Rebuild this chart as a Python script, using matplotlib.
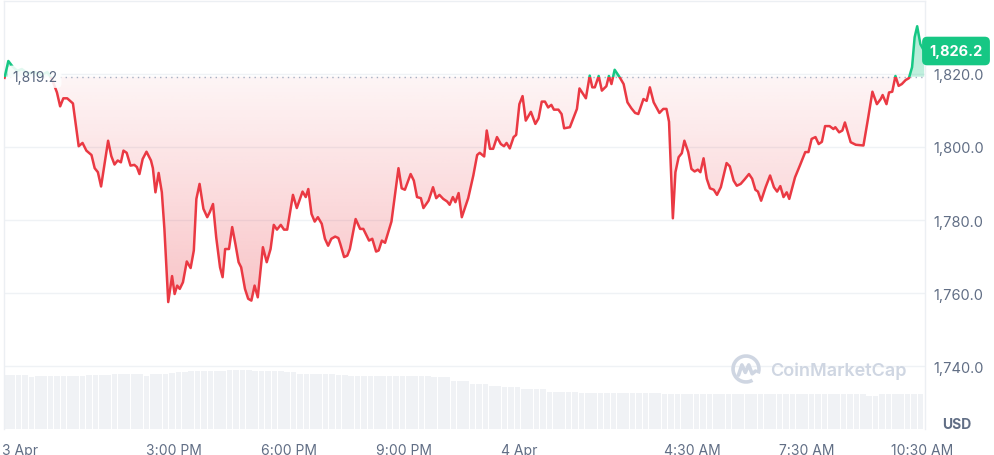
import numpy as np
import matplotlib
matplotlib.use('Agg')
import matplotlib.pyplot as plt
from matplotlib.patches import Rectangle, Arc
from matplotlib.path import Path
from matplotlib.colors import to_rgb

plt.rcParams['font.family'] = ['Inter', 'DejaVu Sans']

RED = '#ea3943'
GREEN = '#16c784'
GRID = '#eff2f5'
TEXT = '#58667e'

# minutes after 10:35 AM, 3 Apr
minutes = [
    0, 6, 13, 20, 27, 36, 47, 58, 67, 74,
    82, 87, 92, 98, 107, 116, 122, 128, 136, 141,
    146, 151, 162, 167, 172, 177, 182, 186, 191, 197,
    203, 207, 211, 216, 222, 229, 232, 236, 241, 246,
    250, 256, 262, 266, 270, 274, 279, 285, 291, 296,
    300, 305, 311, 317, 321, 326, 331, 337, 341, 345,
    351, 356, 361, 366, 370, 376, 381, 386, 391, 396,
    404, 410, 416, 421, 426, 432, 437, 442, 451, 457,
    466, 471, 475, 480, 485, 490, 496, 501, 506, 511,
    517, 522, 525, 531, 536, 540, 549, 556, 561, 570,
    575, 581, 585, 590, 595, 605, 616, 621, 626, 635,
    640, 645, 651, 655, 663, 670, 675, 680, 686, 692,
    696, 701, 705, 710, 715, 725, 733, 739, 743, 750,
    754, 759, 764, 770, 776, 781, 785, 790, 796, 800,
    805, 810, 815, 823, 830, 835, 840, 845, 850, 855,
    859, 866, 871, 875, 884, 895, 899, 909, 915, 919,
    923, 929, 934, 941, 945, 949, 954, 962, 968, 974,
    980, 986, 991, 999, 1004, 1009, 1015, 1024, 1030, 1035,
    1039, 1045, 1049, 1054, 1059, 1063, 1069, 1074, 1079, 1084,
    1088, 1093, 1098, 1103, 1109, 1114, 1120, 1129, 1134, 1140,
    1145, 1151, 1157, 1164, 1169, 1174, 1178, 1183, 1190, 1197,
    1203, 1208, 1213, 1218, 1223, 1227, 1236, 1244, 1252, 1257,
    1262, 1268, 1273, 1278, 1283, 1290, 1296, 1299, 1305, 1310,
    1314, 1323, 1331, 1343, 1350, 1357, 1364, 1370, 1373, 1379,
    1383, 1388, 1393, 1398, 1403, 1409, 1414, 1419, 1423, 1427,
    1432, 1438,
]

prices = [
    1818.9, 1823.5, 1821.9, 1820.8, 1821.3, 1820.2, 1820.5, 1819.7, 1820.5, 1818.6,
    1814.9, 1811.1, 1813.3, 1813.3, 1811.9, 1800.2, 1801.1, 1799.0, 1797.8, 1794.2,
    1793.1, 1789.2, 1801.7, 1797.5, 1795.2, 1796.3, 1795.8, 1799.0, 1798.4, 1794.9,
    1795.1, 1794.5, 1792.6, 1796.7, 1798.7, 1796.3, 1794.2, 1787.6, 1792.9, 1787.6,
    1777.6, 1757.6, 1764.7, 1759.8, 1762.1, 1761.2, 1763.0, 1768.7, 1766.9, 1771.7,
    1785.8, 1789.9, 1783.1, 1780.8, 1782.2, 1784.4, 1775.3, 1767.1, 1764.4, 1772.1,
    1772.1, 1778.1, 1773.5, 1768.5, 1767.1, 1761.2, 1758.5, 1758.0, 1762.1, 1758.9,
    1772.6, 1768.5, 1772.1, 1778.7, 1777.4, 1778.7, 1777.4, 1777.4, 1786.9, 1783.3,
    1787.8, 1786.3, 1788.5, 1781.7, 1779.6, 1780.8, 1779.0, 1774.9, 1773.0, 1774.9,
    1775.5, 1775.1, 1773.5, 1769.9, 1770.3, 1772.1, 1780.3, 1777.6, 1777.6, 1774.4,
    1774.9, 1771.4, 1771.7, 1774.4, 1773.8, 1779.6, 1794.2, 1788.7, 1788.3, 1792.6,
    1790.8, 1786.3, 1786.0, 1783.3, 1785.3, 1789.0, 1786.0, 1786.9, 1785.8, 1785.1,
    1784.2, 1786.3, 1784.9, 1787.4, 1780.8, 1786.0, 1792.2, 1797.8, 1798.4, 1797.4,
    1804.5, 1799.5, 1799.5, 1802.7, 1800.8, 1800.2, 1801.1, 1799.6, 1802.7, 1803.3,
    1811.7, 1813.9, 1807.2, 1809.6, 1806.3, 1807.8, 1812.4, 1812.4, 1810.8, 1811.5,
    1810.2, 1810.2, 1809.0, 1805.1, 1805.4, 1810.4, 1816.0, 1813.3, 1819.5, 1816.3,
    1816.3, 1819.4, 1815.4, 1816.6, 1819.4, 1817.2, 1821.1, 1819.0, 1817.2, 1812.2,
    1810.6, 1809.3, 1809.0, 1813.1, 1812.6, 1816.3, 1812.2, 1809.3, 1810.4, 1810.4,
    1806.9, 1780.5, 1793.1, 1797.2, 1798.3, 1801.7, 1798.6, 1794.0, 1793.3, 1793.8,
    1793.1, 1796.9, 1791.3, 1788.7, 1788.3, 1786.9, 1789.0, 1795.6, 1794.7, 1790.8,
    1789.4, 1789.9, 1791.1, 1792.6, 1791.3, 1788.3, 1787.8, 1785.3, 1789.0, 1792.2,
    1789.0, 1787.8, 1789.3, 1786.3, 1787.6, 1785.8, 1791.7, 1795.1, 1798.6, 1798.6,
    1802.2, 1802.7, 1800.8, 1801.4, 1805.7, 1805.7, 1804.9, 1805.4, 1804.0, 1804.5,
    1806.7, 1801.3, 1800.6, 1800.4, 1807.6, 1815.1, 1811.7, 1813.1, 1814.2, 1811.7,
    1814.9, 1815.1, 1819.4, 1816.7, 1817.2, 1818.3, 1818.8, 1821.8, 1830.0, 1833.0,
    1828.1, 1826.2,
]

# 24h volume (billion USD), one bar every 10 minutes
volumes = [
    8.10, 8.10, 8.10, 8.10, 7.85, 8.00, 8.00, 7.90, 7.90, 7.90,
    8.00, 8.00, 8.00, 8.10, 8.10, 8.10, 8.10, 8.25, 8.25, 8.25,
    8.25, 8.25, 7.90, 8.20, 8.20, 8.20, 8.40, 8.60, 8.60, 8.70,
    8.70, 8.70, 8.70, 8.70, 8.70, 8.85, 8.85, 8.85, 8.85, 8.75,
    8.75, 8.75, 8.75, 8.75, 8.50, 8.50, 8.25, 8.25, 8.25, 8.25,
    8.25, 8.25, 8.10, 8.10, 7.90, 7.90, 7.90, 7.90, 7.90, 7.90,
    7.90, 7.90, 8.00, 8.00, 8.00, 8.00, 8.00, 7.75, 7.75, 7.75,
    7.25, 7.25, 7.25, 6.75, 6.75, 6.75, 6.40, 6.40, 6.25, 6.25,
    6.25, 6.00, 6.00, 6.00, 6.00, 5.60, 5.60, 5.60, 5.60, 5.60,
    5.40, 5.40, 5.40, 5.40, 5.40, 5.40, 5.40, 5.40, 5.40, 5.40,
    5.40, 5.40, 5.40, 5.25, 5.25, 5.25, 5.25, 5.25, 5.25, 5.25,
    5.25, 5.25, 5.25, 5.25, 5.25, 5.25, 5.25, 5.25, 5.25, 5.25,
    5.25, 5.25, 5.25, 5.25, 5.25, 5.25, 5.25, 5.25, 5.25, 5.25,
    5.25, 5.25, 5.25, 5.25, 5.25, 5.00, 5.00, 5.25, 5.25, 5.25,
    5.25, 5.25, 5.25, 5.25,
]

base_price = 1819.2
last_price = 1826.2
tick_minutes = [25, 265, 445, 625, 805, 1075, 1255, 1435]
tick_labels = ['3 Apr', '3:00 PM', '6:00 PM', '9:00 PM', '4 Apr', '4:30 AM', '7:30 AM', '10:30 AM']
y_ticks = [1740, 1760, 1780, 1800, 1820]

t = np.array(minutes, dtype=float)
p = np.array(prices)
ymin, ymax = 1722.9, 1839.9

fig = plt.figure(figsize=(9.95, 4.56), dpi=100)
rect = [4.5 / 995, 26 / 456, 921 / 995, 428 / 456]

# volume bars behind the price
vax = fig.add_axes(rect)
bar_t = np.arange(len(volumes)) * 10 + 2
vax.bar(bar_t, volumes, width=8.8, color='#f0f2f5', align='center')
vax.set_xlim(0, 1440)
vax.set_ylim(0, 64.2)
vax.axis('off')

ax = fig.add_axes(rect)
ax.patch.set_alpha(0)
ax.set_xlim(0, 1440)
ax.set_ylim(ymin, ymax)


def gradient_fill(ax, t, p, base, color, below):
    mask = p <= base if below else p >= base
    coll = ax.fill_between(t, p, base, where=mask, interpolate=True,
                           facecolor='none', edgecolor='none')
    path = Path.make_compound_path(*coll.get_paths())
    rgb = to_rgb(color)
    n = 300
    if below:
        ys = np.linspace(ymin, base, n)
        a = 0.05 + 0.25 * np.clip((base - ys) / (base - 1757.0), 0, 1.2)
        ext = [0, 1440, ymin, base]
    else:
        ys = np.linspace(base, ymax, n)
        a = 0.26 + 0.10 * np.clip((ys - base) / (1833.0 - base), 0, 1)
        ext = [0, 1440, base, ymax]
    img = np.zeros((n, 2, 4))
    img[:, :, :3] = rgb
    img[:, :, 3] = a[:, None]
    im = ax.imshow(img, extent=ext, origin='lower', aspect='auto',
                   interpolation='bilinear', zorder=1)
    im.set_clip_path(path, transform=ax.transData)


gradient_fill(ax, t, p, base_price, RED, True)
gradient_fill(ax, t, p, base_price, GREEN, False)
ax.set_xlim(0, 1440)
ax.set_ylim(ymin, ymax)

# baseline
ax.axhline(base_price, color='#a6b0c3', lw=1, ls=(0, (1, 3)), zorder=2)

red_line, = ax.plot(t, p, color=RED, lw=1.8, solid_joinstyle='round', zorder=3)
red_line.set_clip_path(Rectangle((0, ymin - 10), 1440, base_price - ymin + 10,
                                 transform=ax.transData))
green_line, = ax.plot(t, p, color=GREEN, lw=1.8, solid_joinstyle='round', zorder=3)
green_line.set_clip_path(Rectangle((0, base_price), 1440, 50, transform=ax.transData))

ax.text(12, base_price, f'{base_price:,.1f}', color=TEXT, fontsize=10,
        va='center', ha='left', zorder=4,
        bbox=dict(boxstyle='round,pad=0.3', fc='white', ec='none', alpha=0.88))

# axes styling
ax.set_yticks(y_ticks)
ax.set_yticklabels([f'{v:,.1f}' for v in y_ticks])
ax.yaxis.tick_right()
ax.set_xticks(tick_minutes)
ax.set_xticklabels(tick_labels)
ax.tick_params(axis='y', length=0, pad=6, labelsize=10.5, labelcolor='#616e85')
ax.tick_params(axis='x', length=0, pad=10, labelsize=10, labelcolor='#616e85')
ax.grid(axis='y', color=GRID, lw=1, zorder=0)
ax.set_axisbelow(True)
for side in ['top', 'left', 'right']:
    ax.spines[side].set_color('#eceff3')
    ax.spines[side].set_linewidth(1)
ax.spines['bottom'].set_visible(False)

fig.text(942 / 995, 1 - 425 / 456, 'USD', fontsize=10, fontweight='bold',
         color='#616e85', va='center', ha='left')

fig.text(956 / 995, 1 - 52 / 456, f'{last_price:,.1f}', fontsize=10.5,
         fontweight='bold', color='white', va='center', ha='center',
         bbox=dict(boxstyle='round,pad=0.5,rounding_size=0.35', fc=GREEN, ec='none'))

# watermark
fig.text(770 / 995, 1 - 371 / 456, 'CoinMarketCap', fontsize=13,
         fontweight='semibold', color='#cfd6e2', va='center', ha='left')
lax = fig.add_axes([731 / 995, 1 - 385 / 456, 30 / 995, 30 / 456])
lax.set_xlim(-1.1, 1.1)
lax.set_ylim(-1.1, 1.1)
lax.axis('off')
lax.add_patch(Arc((0, 0), 1.9, 1.9, theta1=-20, theta2=300, color='#cfd6e2', lw=2.6))
lax.plot([-0.55, -0.3, -0.05, 0.2, 0.45, 0.7], [-0.45, 0.3, -0.25, 0.3, -0.35, -0.15],
         color='#cfd6e2', lw=2.6, solid_joinstyle='round', solid_capstyle='round')

fig.savefig('out.png', dpi=100)
